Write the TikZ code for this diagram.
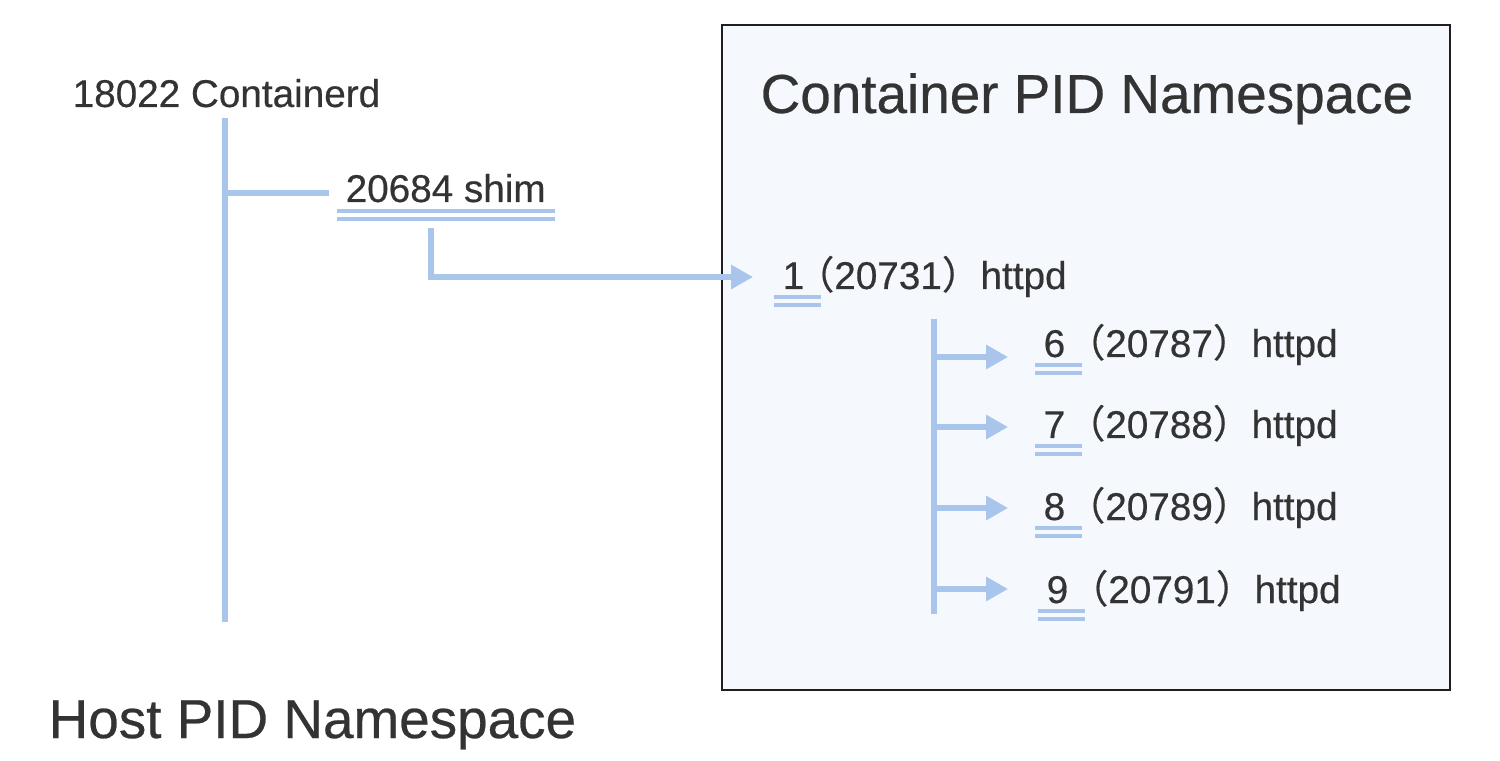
\documentclass[tikz,border=0pt]{standalone}
\usepackage{fontspec}
\setmainfont{Liberation Sans}[FakeBold=0.45]
\newfontfamily\cjk{Noto Sans CJK SC}[FakeBold=0.45]
\usetikzlibrary{calc, arrows.meta}
\definecolor{lineblue}{HTML}{A9C5EB}
\definecolor{boxfill}{HTML}{F5F8FD}
\definecolor{txt}{HTML}{333333}
\tikzset{
  tree/.style={lineblue, line width=1.45pt},
  tip/.style={tree, -{Triangle[length=6.2pt, width=6.6pt]}},
  dline/.style={lineblue, line width=1pt},
  small/.style={text=txt, inner sep=0pt, anchor=base west, font=\fontsize{11}{13}\selectfont},
  big/.style={text=txt, inner sep=0pt, anchor=base west, font=\fontsize{15.6}{19}\selectfont},
}

\begin{document}
\begin{tikzpicture}[x=0.01cm, y=-0.01cm]
\useasboundingbox (0,0) rectangle (1500,761);
% container namespace
\draw[black!88, line width=0.8pt, fill=boxfill] (722,25) rectangle (1450,690);
\node[big](ctitle) at (760,113) {Container PID Namespace};
\node[big](htitle) at (48,738) {Host PID Namespace};
% host side
\node[small](ctrd) at (72,107) {18022 Containerd};
\node[small](shim) at (345,202) {20684 shim};
\foreach \d in {9,17} {\draw[dline] ($(shim.base west)+(-8,\d)$)--($(shim.base east)+(9,\d)$);}
\coordinate(top)at(225,118);
\coordinate(bottom)at(225,622);
\coordinate(fork)at(225,193);
\coordinate(branch)at(329,193);
\draw[tree] (top)--(bottom);
\draw[tree] (fork)--(branch);
% pid 1
\node[small](pid1) at (782,289) {1};
\node[small](cmd1) at ($(pid1.base east)+(-10,0)$) {{\cjk（}20731{\cjk）}httpd};
\foreach \d in {8,16} {\draw[dline] ($(pid1.base west)+(-8,\d)$)--($(pid1.base east)+(16,\d)$);}
\coordinate(down)at(431,228);
\coordinate(in1)at(753,277);
\draw[tip] (down)|-(in1);
% children of pid 1
\coordinate(ctop)at(934,319);
\coordinate(cbottom)at(934,614);
\draw[tree] (ctop)--(cbottom);
\foreach \k/\host/\yb/\ya/\xo in {6/20787/357/357/1043, 7/20788/438/427/1043, 8/20789/520/508/1043, 9/20791/603/589/1046} {
  \node[small](pid\k) at (\xo,\yb) {\k};
  \node[small](cmd\k) at (pid\k.base east) {{\cjk（}\host{\cjk）}httpd};
  \foreach \d in {8,16} {\draw[dline] ($(pid\k.base west)+(-8,\d)$)--($(pid\k.base east)+(16,\d)$);}
  \coordinate(out\k)at(934,\ya);
  \coordinate(in\k)at(1008,\ya);
  \draw[tip] (out\k)--(in\k);
}
\end{tikzpicture}
\end{document}
